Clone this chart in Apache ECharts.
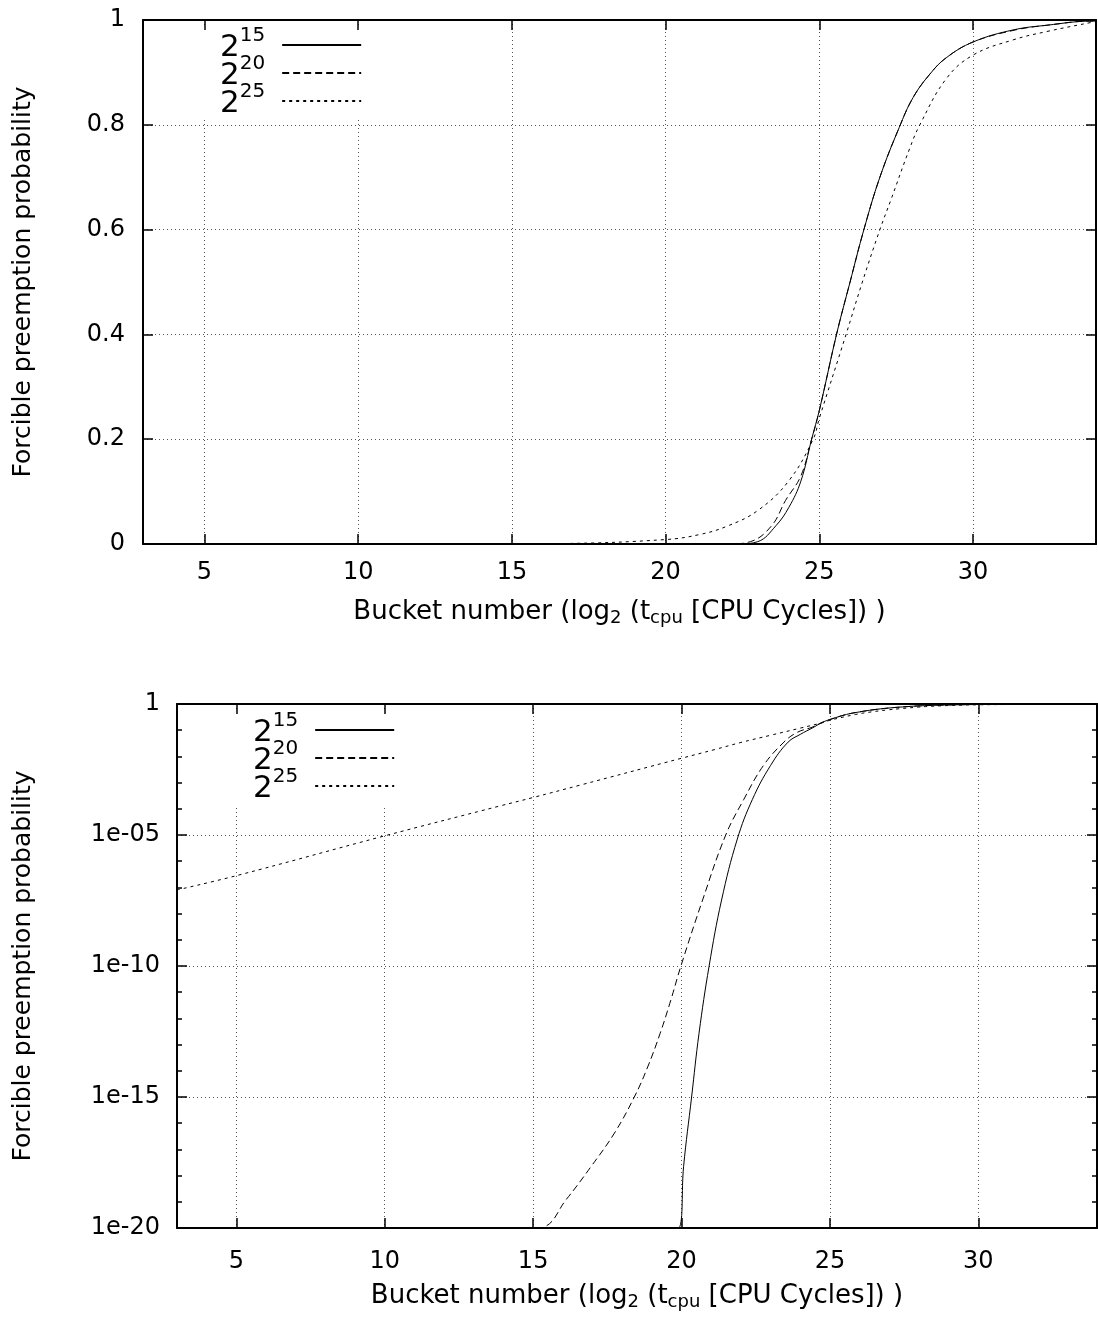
<!DOCTYPE html>
<html><head><meta charset="utf-8">
<script src="https://cdn.jsdelivr.net/npm/echarts@6/dist/echarts.min.js"></script>
<style>html,body{margin:0;padding:0;background:#fff}#c{width:1098px;height:1320px}</style>
</head><body><div id="c"></div>
<script>
// ---- data ----
const seriesNames = ['2^15', '2^20', '2^25'];

const bucket15 = [3, 19.92, 20.07, 20.34, 20.59, 20.93, 21.35, 21.88, 22.39, 23.0, 23.59, 24.01, 24.4, 24.75, 25.0, 25.56, 26.0, 26.45, 26.97, 27.6, 28.05, 28.6, 29.13, 30.0, 31.3, 32.4, 33.9, 34];
const prob15 = [1e-24, 1e-20, 2.2e-18, 1e-15, 2.7e-13, 1e-10, 3.3e-8, 7e-6, 2.3e-4, 4.5e-3, 0.035, 0.07, 0.12, 0.2, 0.255, 0.4, 0.5, 0.6, 0.70, 0.795, 0.852, 0.897, 0.928, 0.958, 0.981, 0.99, 0.998, 0.998];

const bucket20 = [3, 15.29, 16.11, 16.95, 17.74, 18.41, 18.86, 19.28, 19.64, 19.98, 20.71, 21.49, 22.1, 22.76, 23.45, 23.9, 24.4, 24.75, 25.0, 25.56, 26.0, 26.45, 26.97, 27.6, 28.05, 28.6, 29.13, 30.0, 31.3, 32.4, 33.9, 34];
const prob20 = [1e-24, 1e-20, 1.2e-19, 2.2e-18, 4.2e-17, 1e-15, 1.4e-14, 2.7e-13, 5e-12, 1e-10, 3.3e-8, 1e-5, 2.3e-4, 4.5e-3, 0.035, 0.083, 0.13, 0.2, 0.255, 0.4, 0.5, 0.6, 0.70, 0.795, 0.852, 0.897, 0.928, 0.958, 0.98, 0.99, 0.998, 0.998];

const bucket25 = [3, 5, 10, 13.9, 15, 16.6, 20, 21.1, 22, 23, 24, 24.8, 25.0, 25.87, 26.4, 26.97, 27.33, 27.94, 28.27, 29.13, 30.0, 31.3, 32.4, 33.9, 34];
const prob25 = [8e-8, 2.8e-7, 9.3e-6, 1.3e-4, 2.7e-4, 8.1e-4, 8.5e-3, 0.018, 0.034, 0.064, 0.12, 0.2, 0.24, 0.4, 0.5, 0.6, 0.657, 0.755, 0.8, 0.888, 0.933, 0.962, 0.978, 0.996, 0.997];

const logTickLabels = ['1e-20', '1e-15', '1e-10', '1e-05', '1'];
const xTitle = '{n|Bucket number (log}{sub|2}{n| (t}{sub|cpu}{n| [CPU Cycles]) )}';
const yTitle = 'Forcible preemption probability';

// ---- styling ----
const FONT = 'DejaVu Sans';
const BLACK = '#000';
const lineStyles = [
  {color: BLACK, width: 1, type: 'solid'},
  {color: BLACK, width: 1, type: [7, 4]},
  {color: BLACK, width: 1, type: [3, 4]}
];
const axisLine = {onZero: false, lineStyle: {color: BLACK, width: 2}};
const axisTick = {inside: true, length: 10, lineStyle: {color: BLACK, width: 1.5}};
const gridLine = {show: true, lineStyle: {color: '#555', width: 1, type: [1, 3]}};
const titleRich = {
  n: {fontFamily: FONT, fontSize: 26, color: BLACK, lineHeight: 30},
  sub: {fontFamily: FONT, fontSize: 18, color: BLACK, lineHeight: 30, padding: [12, 0, 0, 0]}
};

function xMain(gi, margin) {
  return {
    type: 'value', gridIndex: gi, min: 3, max: 34, splitNumber: 6,
    axisLine, axisTick,
    axisLabel: {showMinLabel: false, showMaxLabel: false, color: BLACK, fontFamily: FONT, fontSize: 24, margin},
    splitLine: gridLine,
    name: xTitle, nameLocation: 'middle', nameGap: 53,
    nameTextStyle: {rich: titleRich}
  };
}
function xMirror(gi) {
  return {
    type: 'value', gridIndex: gi, min: 3, max: 34, splitNumber: 6, position: 'top', z: 10,
    axisLine, axisTick, axisLabel: {show: false}, splitLine: {show: false}
  };
}

const legendRich = {
  b: {fontFamily: FONT, fontSize: 31, color: BLACK, lineHeight: 28, padding: [5, 0, 0, 0]},
  s: {fontFamily: FONT, fontSize: 20, color: BLACK, lineHeight: 28, padding: [0, 12, 18, 0]}
};
function legendAt(left, top) {
  return {
    data: seriesNames, orient: 'vertical', left, top,
    padding: [0, 8, 0, 20], itemGap: -10, itemWidth: 79, itemHeight: 28,
    align: 'right', backgroundColor: '#fff', selectedMode: false,
    itemStyle: {opacity: 0},
    formatter: (name) => { const p = name.split('^'); return '{b|' + p[0] + '}{s|' + p[1] + '}'; },
    textStyle: {fontFamily: FONT, color: BLACK, rich: legendRich}
  };
}

const buckets = [bucket15, bucket20, bucket25];
const probs = [prob15, prob20, prob25];
const series = [];
seriesNames.forEach((nm, i) => {
  series.push({
    type: 'line', name: nm, xAxisIndex: 0, yAxisIndex: 0, symbol: 'none',
    smooth: 0.4, lineStyle: lineStyles[i], z: 3 - i,
    data: buckets[i].map((x, k) => [x, probs[i][k]])
  });
  series.push({
    type: 'line', name: nm, xAxisIndex: 2, yAxisIndex: 2, symbol: 'none',
    smooth: 0.4, lineStyle: lineStyles[i], z: 3 - i,
    data: buckets[i].map((x, k) => [x, Math.log10(probs[i][k])])
  });
});

const option = {
  animation: false,
  backgroundColor: '#fff',
  grid: [
    {left: 141, top: 20, width: 955, height: 524},
    {left: 175, top: 704, width: 922, height: 524}
  ],
  legend: [legendAt(200, 26), legendAt(233, 711)],
  xAxis: [xMain(0, 17), xMirror(0), xMain(1, 22), xMirror(1)],
  yAxis: [
    {
      type: 'value', gridIndex: 0, min: 0, max: 1, interval: 0.2,
      axisLine, axisTick,
      axisLabel: {color: BLACK, fontFamily: FONT, fontSize: 24, margin: 18},
      splitLine: gridLine,
      name: yTitle, nameLocation: 'middle', nameGap: 105,
      nameTextStyle: {fontFamily: FONT, fontSize: 25, color: BLACK, lineHeight: 30}
    },
    {
      type: 'value', gridIndex: 0, min: 0, max: 1, interval: 0.2, position: 'right',
      axisLine, axisTick, axisLabel: {show: false}, splitLine: {show: false}
    },
    {
      type: 'value', gridIndex: 1, min: -20, max: 0, interval: 5,
      axisLine, axisTick,
      minorTick: {show: true, splitNumber: 5, length: 5, lineStyle: {color: BLACK, width: 1.5}},
      axisLabel: {color: BLACK, fontFamily: FONT, fontSize: 24, margin: 17,
        formatter: (v) => logTickLabels[Math.round((v + 20) / 5)]},
      splitLine: gridLine,
      name: yTitle, nameLocation: 'middle', nameGap: 139,
      nameTextStyle: {fontFamily: FONT, fontSize: 25, color: BLACK, lineHeight: 30}
    },
    {
      type: 'value', gridIndex: 1, min: -20, max: 0, interval: 5, position: 'right',
      axisLine, axisTick,
      minorTick: {show: true, splitNumber: 5, length: 5, lineStyle: {color: BLACK, width: 1.5}},
      axisLabel: {show: false}, splitLine: {show: false}
    }
  ],
  series
};

const chart = echarts.init(document.getElementById('c'), null, {renderer: 'canvas'});
chart.setOption(option);
</script>
</body></html>
